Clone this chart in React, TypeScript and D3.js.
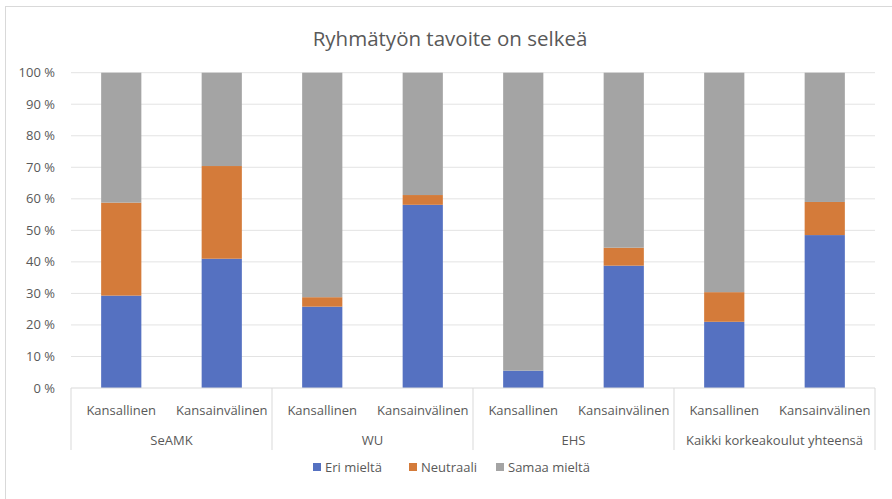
import { useEffect, useRef } from 'react'
import * as d3 from 'd3'

const groups = ['SeAMK', 'WU', 'EHS', 'Kaikki korkeakoulut yhteensä']
const subs = ['Kansallinen', 'Kansainvälinen']
const seriesNames = ['Eri mieltä', 'Neutraali', 'Samaa mieltä']
const colors = ['#5571C1', '#D47B3A', '#A4A4A4']

// one value per bar, in order SeAMK K, SeAMK KV, WU K, WU KV, ...
const eriMielta = [29.3, 41.0, 25.8, 58.1, 5.5, 38.8, 21.0, 48.5]
const neutraali = [29.5, 29.4, 3.0, 3.1, 0, 5.7, 9.4, 10.5]
const samaaMielta = [41.2, 29.6, 71.2, 38.8, 94.5, 55.5, 69.6, 41.0]

const yTicks = [0, 10, 20, 30, 40, 50, 60, 70, 80, 90, 100]

const W = 892
const H = 499

export default function App() {
  const ref = useRef<SVGSVGElement>(null)

  useEffect(() => {
    if (!ref.current) return
    const svg = d3.select(ref.current)
    svg.selectAll('*').remove()

    const left = 71, right = 875, top = 72.7, bottom = 388
    const font = '"Open Sans", "Noto Sans", sans-serif'
    const textCol = '#595959'
    const fs = 13

    const bars = groups.flatMap(g => subs.map(s => ({ g, s })))
    const rows = bars.map((b, i) => ({
      key: `${b.g}|${b.s}`,
      [seriesNames[0]]: eriMielta[i],
      [seriesNames[1]]: neutraali[i],
      [seriesNames[2]]: samaaMielta[i],
    }))

    const x = d3.scaleBand<string>()
      .domain(rows.map(r => r.key))
      .range([left, right])
      .paddingInner(0.6).paddingOuter(0.3)
    const y = d3.scaleLinear().domain([0, 100]).range([bottom, top])

    // chart border
    svg.append('rect')
      .attr('x', 5.5).attr('y', 6.5)
      .attr('width', W + 20).attr('height', H + 20)
      .attr('fill', 'white').attr('stroke', '#d9d9d9')

    // title
    svg.append('text')
      .attr('x', 450).attr('y', 46)
      .attr('text-anchor', 'middle')
      .attr('font-family', font).attr('font-size', 20.5)
      .attr('fill', textCol)
      .text('Ryhmätyön tavoite on selkeä')

    // grid + y labels
    const yg = svg.append('g')
    yTicks.forEach(t => {
      if (t > 0) {
        yg.append('line')
          .attr('x1', left).attr('x2', right)
          .attr('y1', y(t)).attr('y2', y(t))
          .attr('stroke', '#e3e3e3').attr('stroke-width', 1)
      }
      yg.append('text')
        .attr('x', 55).attr('y', y(t) + 4.5)
        .attr('text-anchor', 'end')
        .attr('font-family', font).attr('font-size', fs)
        .attr('fill', textCol)
        .text(`${t} %`)
    })

    // stacked bars
    const stack = d3.stack<any>().keys(seriesNames)(rows)
    stack.forEach((layer, li) => {
      svg.append('g').attr('fill', colors[li])
        .selectAll('rect')
        .data(layer)
        .join('rect')
        .attr('x', d => x(d.data.key)!)
        .attr('width', x.bandwidth())
        .attr('y', d => y(d[1]))
        .attr('height', d => Math.max(0, y(d[0]) - y(d[1])))
    })

    // category axis
    svg.append('line')
      .attr('x1', left).attr('x2', right)
      .attr('y1', bottom).attr('y2', bottom)
      .attr('stroke', '#d9d9d9')

    const step = (right - left) / groups.length
    d3.range(groups.length + 1).forEach(i => {
      svg.append('line')
        .attr('x1', left + i * step).attr('x2', left + i * step)
        .attr('y1', bottom).attr('y2', 450)
        .attr('stroke', '#d9d9d9')
    })

    bars.forEach((b, i) => {
      svg.append('text')
        .attr('x', x(rows[i].key)! + x.bandwidth() / 2)
        .attr('y', 415)
        .attr('text-anchor', 'middle')
        .attr('font-family', font).attr('font-size', fs)
        .attr('fill', textCol)
        .text(b.s)
    })
    groups.forEach((g, i) => {
      svg.append('text')
        .attr('x', left + (i + 0.5) * step)
        .attr('y', 445)
        .attr('text-anchor', 'middle')
        .attr('font-family', font).attr('font-size', fs)
        .attr('fill', textCol)
        .text(g)
    })

    // legend
    const legendX = [313, 409, 496]
    seriesNames.forEach((n, i) => {
      svg.append('rect')
        .attr('x', legendX[i]).attr('y', 463)
        .attr('width', 8).attr('height', 8)
        .attr('fill', colors[i])
      svg.append('text')
        .attr('x', legendX[i] + 12).attr('y', 471.5)
        .attr('font-family', font).attr('font-size', fs)
        .attr('fill', textCol)
        .text(n)
    })
  }, [])

  return (
    <svg ref={ref} width={W} height={H}
      style={{ position: 'absolute', left: 0, top: 0, background: 'white' }} />
  )
}
